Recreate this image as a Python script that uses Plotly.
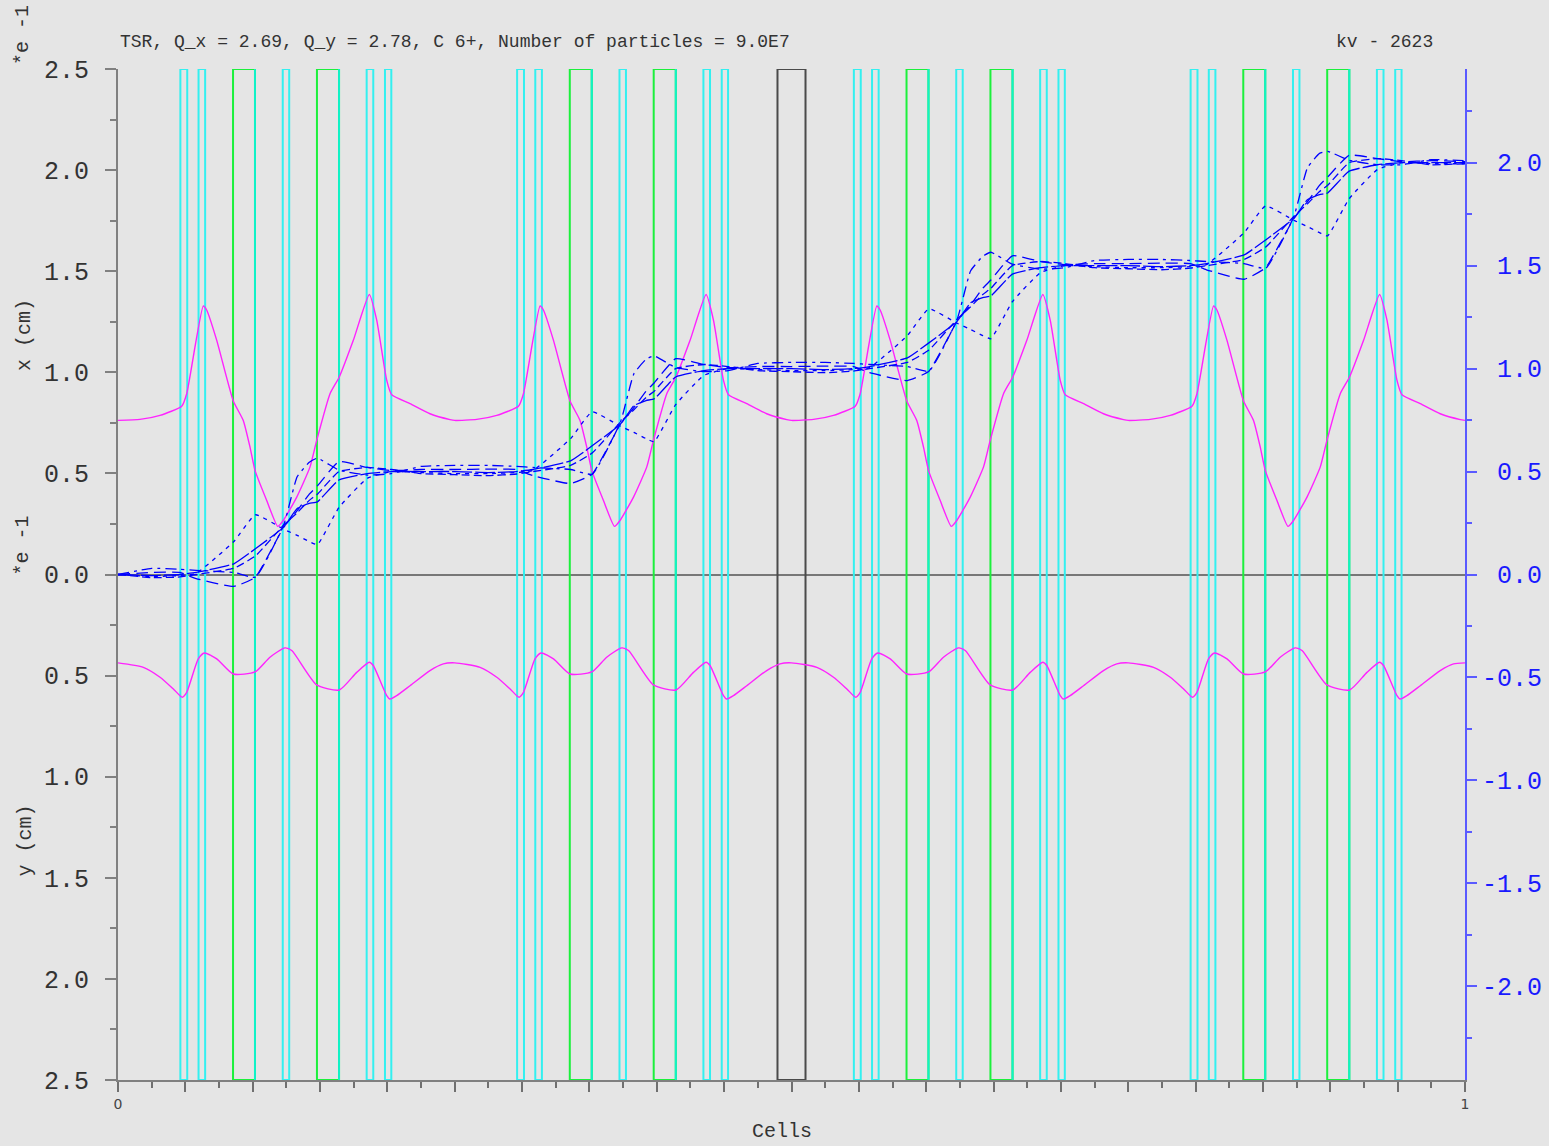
import plotly.graph_objects as go

# ---------------- data ----------------
TITLE = "TSR, Q_x = 2.69, Q_y = 2.78, C 6+, Number of particles = 9.0E7"
RUN_ID = "kv - 2623"

# lattice elements (start, end) in cell units
QUAD_START = [0.0463, 0.0598, 0.1223, 0.1846, 0.1982,
              0.2963, 0.3098, 0.3723, 0.4346, 0.4482,
              0.5463, 0.5598, 0.6223, 0.6846, 0.6982,
              0.7963, 0.8098, 0.8723, 0.9346, 0.9482]
QUAD_END = [0.0514, 0.0647, 0.1271, 0.1895, 0.2029,
            0.3014, 0.3147, 0.3771, 0.4395, 0.4529,
            0.5514, 0.5647, 0.6271, 0.6895, 0.7029,
            0.8014, 0.8147, 0.8771, 0.9395, 0.9529]
DIPOLE_START = [0.0854, 0.1477, 0.3354, 0.3977, 0.5854, 0.6477, 0.8354, 0.8977]
DIPOLE_END = [0.1017, 0.1641, 0.3517, 0.4141, 0.6017, 0.6641, 0.8517, 0.9141]
CAVITY_START = [0.4896]
CAVITY_END = [0.5104]

# horizontal envelope x (cm, *e-1), upper half
S_X = [0.0000, 0.0163, 0.0312, 0.0473, 0.0510, 0.0633, 0.0659, 0.0733, 0.0856, 0.0930, 0.0980, 0.1017, 0.1104, 0.1186,
       0.1227, 0.1327, 0.1425, 0.1475, 0.1574, 0.1643, 0.1747, 0.1866, 0.1921, 0.1995, 0.2032, 0.2168, 0.2316, 0.2465,
       0.2500, 0.2663, 0.2812, 0.2973, 0.3010, 0.3133, 0.3159, 0.3233, 0.3356, 0.3430, 0.3480, 0.3517, 0.3604, 0.3686,
       0.3727, 0.3827, 0.3925, 0.3975, 0.4074, 0.4143, 0.4247, 0.4366, 0.4421, 0.4495, 0.4532, 0.4668, 0.4816, 0.4965,
       0.5000, 0.5163, 0.5312, 0.5473, 0.5510, 0.5633, 0.5659, 0.5733, 0.5856, 0.5930, 0.5980, 0.6017, 0.6104, 0.6186,
       0.6227, 0.6327, 0.6425, 0.6475, 0.6574, 0.6643, 0.6747, 0.6866, 0.6921, 0.6995, 0.7032, 0.7168, 0.7316, 0.7465,
       0.7500, 0.7663, 0.7812, 0.7973, 0.8010, 0.8133, 0.8159, 0.8233, 0.8356, 0.8430, 0.8480, 0.8517, 0.8604, 0.8686,
       0.8727, 0.8827, 0.8925, 0.8975, 0.9074, 0.9143, 0.9247, 0.9366, 0.9421, 0.9495, 0.9532, 0.9668, 0.9816, 0.9965,
       1.0000]
ENV_X = [0.762, 0.767, 0.787, 0.832, 0.894, 1.328, 1.307, 1.158, 0.858, 0.762, 0.630, 0.515, 0.366, 0.238,
         0.267, 0.383, 0.531, 0.663, 0.894, 0.977, 1.158, 1.385, 1.257, 0.960, 0.889, 0.845, 0.795, 0.766,
         0.762, 0.767, 0.787, 0.832, 0.894, 1.328, 1.307, 1.158, 0.858, 0.762, 0.630, 0.515, 0.366, 0.238,
         0.267, 0.383, 0.531, 0.663, 0.894, 0.977, 1.158, 1.385, 1.257, 0.960, 0.889, 0.845, 0.795, 0.766,
         0.762, 0.767, 0.787, 0.832, 0.894, 1.328, 1.307, 1.158, 0.858, 0.762, 0.630, 0.515, 0.366, 0.238,
         0.267, 0.383, 0.531, 0.663, 0.894, 0.977, 1.158, 1.385, 1.257, 0.960, 0.889, 0.845, 0.795, 0.766,
         0.762, 0.767, 0.787, 0.832, 0.894, 1.328, 1.307, 1.158, 0.858, 0.762, 0.630, 0.515, 0.366, 0.238,
         0.267, 0.383, 0.531, 0.663, 0.894, 0.977, 1.158, 1.385, 1.257, 0.960, 0.889, 0.845, 0.795, 0.766,
         0.762]

# vertical envelope y (cm, *e-1), drawn downward in lower half
S_Y = [0.0000, 0.0188, 0.0312, 0.0411, 0.0477, 0.0510, 0.0596, 0.0641, 0.0733, 0.0856, 0.1017, 0.1128, 0.1240,
       0.1290, 0.1475, 0.1643, 0.1772, 0.1866, 0.1895, 0.1995, 0.2019, 0.2069, 0.2168, 0.2316, 0.2415,
       0.2500, 0.2688, 0.2812, 0.2911, 0.2977, 0.3010, 0.3096, 0.3141, 0.3233, 0.3356, 0.3517, 0.3628, 0.3740,
       0.3790, 0.3975, 0.4143, 0.4272, 0.4366, 0.4395, 0.4495, 0.4519, 0.4569, 0.4668, 0.4816, 0.4915,
       0.5000, 0.5188, 0.5312, 0.5411, 0.5477, 0.5510, 0.5596, 0.5641, 0.5733, 0.5856, 0.6017, 0.6128, 0.6240,
       0.6290, 0.6475, 0.6643, 0.6772, 0.6866, 0.6895, 0.6995, 0.7019, 0.7069, 0.7168, 0.7316, 0.7415,
       0.7500, 0.7688, 0.7812, 0.7911, 0.7977, 0.8010, 0.8096, 0.8141, 0.8233, 0.8356, 0.8517, 0.8628, 0.8740,
       0.8790, 0.8975, 0.9143, 0.9272, 0.9366, 0.9395, 0.9495, 0.9519, 0.9569, 0.9668, 0.9816, 0.9915,
       1.0000]
ENV_Y = [0.437, 0.459, 0.508, 0.566, 0.607, 0.583, 0.417, 0.388, 0.417, 0.492, 0.482, 0.409, 0.363,
         0.376, 0.546, 0.571, 0.484, 0.434, 0.450, 0.599, 0.616, 0.599, 0.550, 0.475, 0.442,
         0.437, 0.459, 0.508, 0.566, 0.607, 0.583, 0.417, 0.388, 0.417, 0.492, 0.482, 0.409, 0.363,
         0.376, 0.546, 0.571, 0.484, 0.434, 0.450, 0.599, 0.616, 0.599, 0.550, 0.475, 0.442,
         0.437, 0.459, 0.508, 0.566, 0.607, 0.583, 0.417, 0.388, 0.417, 0.492, 0.482, 0.409, 0.363,
         0.376, 0.546, 0.571, 0.484, 0.434, 0.450, 0.599, 0.616, 0.599, 0.550, 0.475, 0.442,
         0.437, 0.459, 0.508, 0.566, 0.607, 0.583, 0.417, 0.388, 0.417, 0.492, 0.482, 0.409, 0.363,
         0.376, 0.546, 0.571, 0.484, 0.434, 0.450, 0.599, 0.616, 0.599, 0.550, 0.475, 0.442,
         0.437]

# particle curves (right axis)
S_P = [0.000, 0.025, 0.046, 0.058, 0.086, 0.102, 0.123, 0.133, 0.142, 0.148, 0.164, 0.185, 0.203, 0.225,
       0.250, 0.275, 0.296, 0.308, 0.336, 0.352, 0.373, 0.383, 0.392, 0.398, 0.414, 0.435, 0.453, 0.475,
       0.500, 0.525, 0.546, 0.558, 0.586, 0.602, 0.623, 0.633, 0.642, 0.648, 0.664, 0.685, 0.703, 0.725,
       0.750, 0.775, 0.796, 0.808, 0.836, 0.852, 0.873, 0.883, 0.892, 0.898, 0.914, 0.935, 0.953, 0.975,
       1.000]
P_A = [0.000, -0.010, -0.005, 0.005, 0.160, 0.290, 0.220, 0.190, 0.160, 0.145, 0.325, 0.467, 0.500, 0.495,
       0.490, 0.490, 0.495, 0.505, 0.660, 0.790, 0.720, 0.690, 0.660, 0.645, 0.825, 0.967, 1.000, 0.995,
       0.990, 0.990, 0.995, 1.005, 1.160, 1.290, 1.220, 1.190, 1.160, 1.145, 1.325, 1.467, 1.500, 1.495,
       1.490, 1.490, 1.495, 1.505, 1.660, 1.790, 1.720, 1.690, 1.660, 1.645, 1.825, 1.967, 2.000, 1.995,
       1.995]
P_B = [0.000, 0.010, 0.010, -0.020, -0.058, -0.013, 0.230, 0.310, 0.390, 0.430, 0.548, 0.520, 0.505, 0.510,
       0.510, 0.512, 0.510, 0.480, 0.442, 0.487, 0.730, 0.810, 0.890, 0.930, 1.048, 1.020, 1.005, 1.010,
       1.010, 1.012, 1.010, 0.980, 0.942, 0.987, 1.230, 1.310, 1.390, 1.430, 1.548, 1.520, 1.505, 1.510,
       1.510, 1.512, 1.510, 1.480, 1.434, 1.490, 1.730, 1.810, 1.890, 1.930, 2.036, 2.020, 2.005, 2.010,
       2.005]
P_C = [0.000, 0.030, 0.025, 0.020, 0.010, -0.013, 0.240, 0.475, 0.545, 0.565, 0.507, 0.483, 0.490, 0.525,
       0.530, 0.530, 0.525, 0.520, 0.510, 0.487, 0.740, 0.975, 1.045, 1.062, 1.005, 0.985, 0.990, 1.025,
       1.030, 1.030, 1.025, 1.020, 1.010, 0.987, 1.240, 1.475, 1.545, 1.565, 1.507, 1.483, 1.490, 1.525,
       1.530, 1.530, 1.525, 1.520, 1.510, 1.487, 1.740, 1.975, 2.045, 2.055, 2.012, 1.990, 1.990, 2.015,
       2.010]
P_D = [0.000, -0.005, 0.000, 0.010, 0.052, 0.125, 0.230, 0.320, 0.345, 0.353, 0.459, 0.490, 0.500, 0.500,
       0.500, 0.495, 0.500, 0.510, 0.552, 0.625, 0.730, 0.820, 0.845, 0.853, 0.959, 0.990, 1.000, 1.000,
       1.000, 0.995, 1.000, 1.010, 1.052, 1.125, 1.230, 1.320, 1.345, 1.353, 1.459, 1.490, 1.500, 1.500,
       1.500, 1.495, 1.500, 1.510, 1.552, 1.625, 1.730, 1.820, 1.845, 1.853, 1.959, 1.990, 2.000, 2.000,
       2.000]
P_E = [0.000, -0.015, -0.012, 0.000, 0.030, 0.090, 0.240, 0.300, 0.360, 0.390, 0.500, 0.520, 0.510, 0.490,
       0.485, 0.480, 0.488, 0.500, 0.530, 0.590, 0.740, 0.800, 0.860, 0.890, 1.000, 1.020, 1.010, 0.990,
       0.985, 0.980, 0.988, 1.000, 1.030, 1.090, 1.240, 1.300, 1.360, 1.390, 1.500, 1.520, 1.510, 1.490,
       1.485, 1.480, 1.488, 1.500, 1.530, 1.590, 1.740, 1.800, 1.860, 1.890, 2.000, 2.020, 2.010, 1.990,
       1.995]

LEFT_TICKS = [-2.5, -2.0, -1.5, -1.0, -0.5, 0.0, 0.5, 1.0, 1.5, 2.0, 2.5]
LEFT_TEXT = ["2.5", "2.0", "1.5", "1.0", "0.5", "0.0", "0.5", "1.0", "1.5", "2.0", "2.5"]
RIGHT_TICKS = [-2.0, -1.5, -1.0, -0.5, 0.0, 0.5, 1.0, 1.5, 2.0]
RIGHT_TEXT = ["-2.0", "-1.5", "-1.0", "-0.5", "\u00a00.0", "\u00a00.5", "\u00a01.0", "\u00a01.5", "\u00a02.0"]
X_TICKS = [i / 20 for i in range(21)]
X_TEXT = ["0"] + [""] * 19 + ["1"]

# ---------------- figure ----------------
BG = "#e5e5e5"
MONO = "Liberation Mono"
Y_LO, Y_HI = -2.5, 2.5


def boxes(starts, ends):
    xs, ys = [], []
    for a, b in zip(starts, ends):
        xs += [a, a, b, b, a, None]
        ys += [Y_LO, Y_HI, Y_HI, Y_LO, Y_LO, None]
    return xs, ys


def edges(pos):
    xs, ys = [], []
    for a in pos:
        xs += [a, a, None]
        ys += [Y_LO, Y_HI, None]
    return xs, ys


fig = go.Figure()
for starts, ends, col in [(QUAD_START, QUAD_END, "#33f0f0"),
                          (DIPOLE_START, DIPOLE_END, "#1cf03c"),
                          (CAVITY_START, CAVITY_END, "#4a4a4a")]:
    bx, by = boxes(starts, ends)
    fig.add_trace(go.Scatter(x=bx, y=by, mode="lines", line=dict(color=col, width=2),
                             hoverinfo="skip", showlegend=False))
ex, ey = edges(DIPOLE_END)
fig.add_trace(go.Scatter(x=ex, y=ey, mode="lines", line=dict(color="#10f2c8", width=2),
                         hoverinfo="skip", showlegend=False))

fig.add_trace(go.Scatter(x=S_X, y=ENV_X, mode="lines", line=dict(color="#ff22ff", width=1.4, shape="spline", smoothing=0.5),
                         showlegend=False))
fig.add_trace(go.Scatter(x=S_Y, y=[-v for v in ENV_Y], mode="lines",
                         line=dict(color="#ff22ff", width=1.4, shape="spline", smoothing=0.6),
                         showlegend=False))

for vals, dash in [(P_A, "4px,5px"), (P_B, "12px,6px"), (P_C, "11px,5px,3px,5px"),
                   (P_D, "20px,3px"), (P_E, "8px,4px")]:
    fig.add_trace(go.Scatter(x=S_P, y=vals, yaxis="y2", mode="lines",
                             line=dict(color="#0000ff", width=1.3, dash=dash, shape="spline", smoothing=0.4),
                             showlegend=False))

ann_font = dict(family=MONO, size=18, color="#333333")
axis_font = dict(family=MONO, size=20, color="#333333")
annotations = [
    dict(text=TITLE, x=0.0, y=1.0267, xanchor="left", yanchor="middle", font=ann_font),
    dict(text=RUN_ID, x=0.9777, y=1.0267, xanchor="right", yanchor="middle", font=ann_font),
    dict(text="x (cm)", x=-0.069, y=0.737, textangle=-90, xanchor="center", yanchor="middle", font=axis_font),
    dict(text="y (cm)", x=-0.069, y=0.237, textangle=-90, xanchor="center", yanchor="middle", font=axis_font),
    dict(text="*e -1", x=-0.071, y=1.034, textangle=-90, xanchor="center", yanchor="middle", font=axis_font),
    dict(text="*e -1", x=-0.071, y=0.529, textangle=-90, xanchor="center", yanchor="middle", font=axis_font),
    dict(text="Cells", x=0.493, y=-0.0514, xanchor="center", yanchor="middle", font=axis_font),
]
for a in annotations:
    a.update(xref="paper", yref="paper", showarrow=False)

fig.update_layout(
    width=1549, height=1146, autosize=False,
    margin=dict(l=118, r=84, t=69, b=66, autoexpand=False),
    paper_bgcolor=BG, plot_bgcolor=BG,
    showlegend=False, hovermode=False,
    annotations=annotations,
    xaxis=dict(range=[0, 1], showgrid=False, zeroline=False, automargin=False,
               showline=True, linecolor="#808080", linewidth=2,
               ticks="outside", ticklen=10, tickwidth=2, tickcolor="#707070",
               tickvals=X_TICKS, ticktext=X_TEXT,
               tickfont=dict(family="DejaVu Sans", size=14, color="#444444"),
               minor=dict(dtick=0.025, tick0=0, ticklen=6, tickwidth=2, tickcolor="#707070", ticks="outside")),
    yaxis=dict(range=[Y_LO, Y_HI], showgrid=False, automargin=False,
               zeroline=True, zerolinecolor="#777777", zerolinewidth=2,
               showline=True, linecolor="#808080", linewidth=2,
               ticks="outside", ticklen=11, tickwidth=2, tickcolor="#808080",
               tickvals=LEFT_TICKS, ticktext=LEFT_TEXT, ticklabelstandoff=11,
               tickfont=dict(family=MONO, size=25, color="#333333"),
               minor=dict(dtick=0.25, tick0=0, ticklen=6, tickwidth=2, tickcolor="#808080", ticks="outside")),
    yaxis2=dict(range=[-2.455, 2.455], overlaying="y", side="right", showgrid=False, zeroline=False,
                automargin=False,
                showline=True, linecolor="#5a5aff", linewidth=2,
                ticks="outside", ticklen=10, tickwidth=2, tickcolor="#5a5aff",
                tickvals=RIGHT_TICKS, ticktext=RIGHT_TEXT,
                tickfont=dict(family=MONO, size=25, color="#1a1aff"),
                minor=dict(dtick=0.25, tick0=0, ticklen=5, tickwidth=2, tickcolor="#5a5aff", ticks="outside")),
)

fig.write_html("out.html")
